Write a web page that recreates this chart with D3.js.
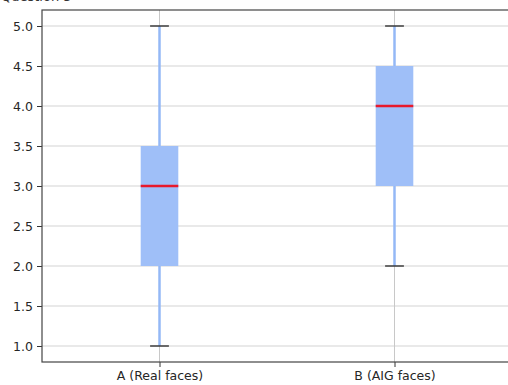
<!DOCTYPE html>
<html>
<head>
<meta charset="utf-8">
<script src="https://cdn.jsdelivr.net/npm/d3@7"></script>
<style>
  body { margin: 0; background: #fff; overflow: hidden; }
  text { font-family: "DejaVu Sans", sans-serif; }
</style>
</head>
<body>
<div id="chart"></div>
<script>
const categories = ["A (Real faces)", "B (AIG faces)"];
const whiskerLow = [1, 2];
const q1 = [2, 3];
const medians = [3, 4];
const q3 = [3.5, 4.5];
const whiskerHigh = [5, 5];
const yTicks = [1.0, 1.5, 2.0, 2.5, 3.0, 3.5, 4.0, 4.5, 5.0];

const width = 508;
const height = 385;
const margin = { top: 10, left: 42 };
const plotW = 470;
const plotH = 352;

const svg = d3.select("#chart").append("svg")
  .attr("width", width)
  .attr("height", height);

// title, mostly cropped off the top like the reference
svg.append("text")
  .attr("x", 1)
  .attr("y", 1)
  .attr("font-size", 13)
  .attr("fill", "#333")
  .text("Question 3");

const x = d3.scaleLinear().domain([0.5, 2.5]).range([margin.left, margin.left + plotW]);
const y = d3.scaleLinear().domain([0.8, 5.2]).range([margin.top + plotH, margin.top]);

const g = svg.append("g");

// grid
g.append("g")
  .selectAll("line")
  .data(yTicks)
  .join("line")
  .attr("x1", margin.left)
  .attr("x2", margin.left + plotW)
  .attr("y1", (d) => y(d))
  .attr("y2", (d) => y(d))
  .attr("stroke", "#d4d4d4")
  .attr("stroke-width", 1.2);

g.append("g")
  .selectAll("line")
  .data(categories)
  .join("line")
  .attr("x1", (d, i) => x(i + 1))
  .attr("x2", (d, i) => x(i + 1))
  .attr("y1", margin.top)
  .attr("y2", margin.top + plotH)
  .attr("stroke", "#c8c8c8")
  .attr("stroke-width", 1);

const boxW = x(1.16) - x(1);
const capW = boxW / 2;

const box = g.append("g")
  .selectAll("g")
  .data(categories)
  .join("g")
  .attr("transform", (d, i) => `translate(${x(i + 1)},0)`);

box.append("line")
  .attr("y1", (d, i) => y(whiskerLow[i]))
  .attr("y2", (d, i) => y(whiskerHigh[i]))
  .attr("stroke", "#94b8f6")
  .attr("stroke-width", 2.5);

box.append("rect")
  .attr("x", -boxW / 2)
  .attr("width", boxW)
  .attr("y", (d, i) => y(q3[i]))
  .attr("height", (d, i) => y(q1[i]) - y(q3[i]))
  .attr("fill", "#9fbff8");

box.append("line")
  .attr("x1", -boxW / 2)
  .attr("x2", boxW / 2)
  .attr("y1", (d, i) => y(medians[i]))
  .attr("y2", (d, i) => y(medians[i]))
  .attr("stroke", "#e8192c")
  .attr("stroke-width", 2.5);

box.selectAll(".cap")
  .data((d, i) => [whiskerLow[i], whiskerHigh[i]])
  .join("line")
  .attr("class", "cap")
  .attr("x1", -capW / 2)
  .attr("x2", capW / 2)
  .attr("y1", (d) => y(d))
  .attr("y2", (d) => y(d))
  .attr("stroke", "#333")
  .attr("stroke-width", 1.4);

// axes
const yAxis = g.append("g")
  .attr("transform", `translate(${margin.left},0)`)
  .call(d3.axisLeft(y).tickValues(yTicks).tickFormat(d3.format(".1f")).tickSizeOuter(0).tickSize(5).tickPadding(4));

const xAxis = g.append("g")
  .attr("transform", `translate(0,${margin.top + plotH})`)
  .call(d3.axisBottom(x).tickValues([1, 2]).tickFormat((d) => categories[d - 1]).tickSizeOuter(0).tickSize(5).tickPadding(4));

[yAxis, xAxis].forEach((a) => {
  a.select(".domain").remove();
  a.selectAll("line").attr("stroke", "#333");
  a.selectAll("text").attr("font-size", 12.5).attr("fill", "#262626").attr("font-family", "DejaVu Sans, sans-serif");
});

// frame
g.append("rect")
  .attr("x", margin.left)
  .attr("y", margin.top)
  .attr("width", plotW)
  .attr("height", plotH)
  .attr("fill", "none")
  .attr("stroke", "#444")
  .attr("stroke-width", 1.2);
</script>
</body>
</html>
